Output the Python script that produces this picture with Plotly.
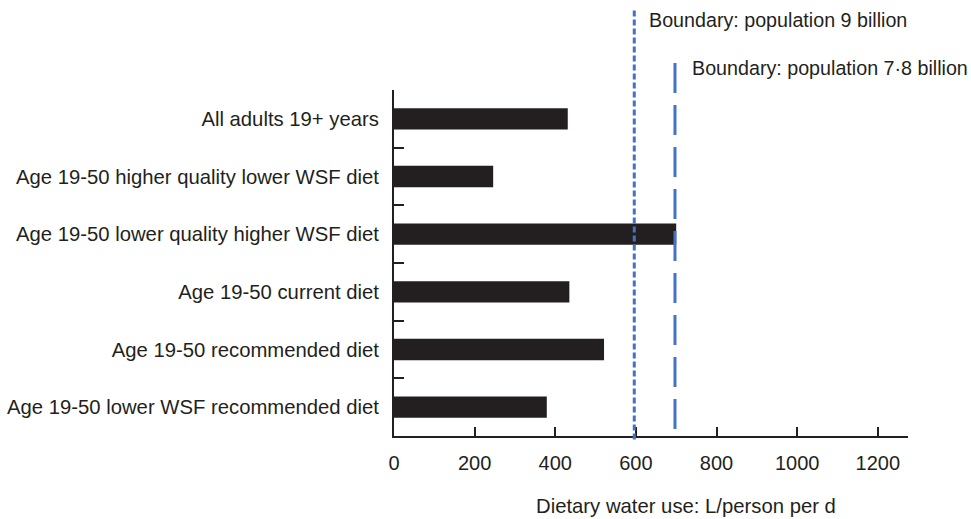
import plotly.graph_objects as go

categories = [
    "All adults 19+ years",
    "Age 19-50 higher quality lower WSF diet",
    "Age 19-50 lower quality higher WSF diet",
    "Age 19-50 current diet",
    "Age 19-50 recommended diet",
    "Age 19-50 lower WSF recommended diet",
]
water_use = [431, 246, 700, 435, 521, 379]
boundary_9bn = 596
boundary_78bn = 697
boundary_labels = ["Boundary: population 9 billion", "Boundary: population 7·8 billion"]
x_ticks = [0, 200, 400, 600, 800, 1000, 1200]
x_title = "Dietary water use: L/person per d"

dark = "#231f20"
blue = "#4472c4"
font = "Liberation Sans, Arial, sans-serif"

fig = go.Figure()
fig.add_trace(go.Bar(
    x=water_use, y=categories, orientation="h",
    marker=dict(color=dark, line=dict(width=0)),
    width=0.37,
))

# boundary lines
fig.add_shape(type="line", xref="x", yref="paper", x0=boundary_9bn, x1=boundary_9bn,
              y0=-0.01, y1=1.232, line=dict(color=blue, width=3, dash="6px,3px"))
fig.add_shape(type="line", xref="x", yref="paper", x0=boundary_78bn, x1=boundary_78bn,
              y0=0.02, y1=1.093, line=dict(color=blue, width=3, dash="30px,12px"))

fig.add_annotation(xref="paper", yref="paper", x=0.493, y=1.202, text=boundary_labels[0],
                   showarrow=False, xanchor="left", yanchor="middle",
                   font=dict(size=19.7, color=dark, family=font))
fig.add_annotation(xref="paper", yref="paper", x=0.575, y=1.064, text=boundary_labels[1],
                   showarrow=False, xanchor="left", yanchor="middle",
                   font=dict(size=19.7, color=dark, family=font))
# x-axis title (offset to the right, as in the original)
fig.add_annotation(xref="paper", yref="paper", x=0.569, y=-0.2015, text=x_title,
                   showarrow=False, xanchor="center", yanchor="middle",
                   font=dict(size=20.3, color=dark, family=font))

fig.update_layout(
    width=971, height=519,
    margin=dict(l=394, r=63, t=90, b=83),
    paper_bgcolor="white", plot_bgcolor="white",
    showlegend=False,
    font=dict(family=font, size=20, color=dark),
    xaxis=dict(
        range=[0, 1275], tickvals=x_ticks, ticktext=[str(v) for v in x_ticks],
        showgrid=False, zeroline=False,
        showline=True, linecolor=dark, linewidth=2,
        ticks="inside", ticklen=9, tickwidth=2, tickcolor=dark,
        tickfont=dict(size=20, color=dark),
        ticklabelstandoff=8,
        automargin=False,
        fixedrange=True,
    ),
    yaxis=dict(
        type="category", categoryorder="array", categoryarray=categories,
        range=[5.5, -0.5],
        showgrid=False, zeroline=False,
        showline=True, linecolor=dark, linewidth=2,
        ticks="inside", tickson="boundaries", ticklen=10, tickwidth=2, tickcolor=dark,
        tickfont=dict(size=20.3, color=dark),
        ticklabelstandoff=9,
        automargin=False,
        fixedrange=True,
    ),
)

fig.write_html(
    "out.html",
    config={"displayModeBar": False},
    post_script="document.body.style.margin='0';document.body.style.overflow='hidden';",
)
